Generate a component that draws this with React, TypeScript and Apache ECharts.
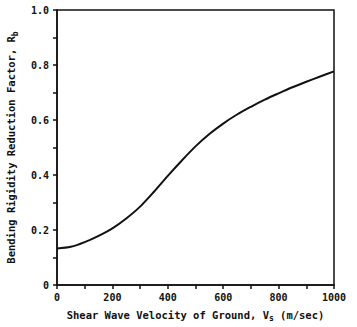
import React, { useEffect, useRef } from "react";
import * as echarts from "echarts";

const velocity = [0, 50, 100, 150, 200, 250, 300, 350, 400, 450, 500, 550, 600, 650, 700, 750, 800, 850, 900, 950, 1000];
const factor = [0.133, 0.139, 0.156, 0.179, 0.206, 0.242, 0.285, 0.339, 0.397, 0.452, 0.504, 0.549, 0.587, 0.62, 0.648, 0.674, 0.697, 0.719, 0.739, 0.758, 0.777];

const FONT = "'DejaVu Sans Mono', monospace";

export default function App() {
  const ref = useRef<HTMLDivElement>(null);
  useEffect(() => {
    if (!ref.current) return;
    const chart = echarts.init(ref.current, undefined, { renderer: "svg" });
    chart.setOption({
      animation: false,
      backgroundColor: "#fff",
      grid: {
        left: 57, top: 10, right: 23, bottom: 42,
        containLabel: false, outerBoundsMode: "none",
        show: true, borderColor: "#111", borderWidth: 1.5,
      },
      xAxis: {
        type: "value",
        min: 0,
        max: 1000,
        interval: 100,
        name: "{a|Shear Wave Velocity of Ground, V}{s|s}{a| (m/sec)}",
        nameLocation: "middle",
        nameGap: 22,
        nameTextStyle: {
          rich: {
            a: { fontFamily: FONT, fontWeight: "bold", fontSize: 10.5, color: "#111", lineHeight: 14 },
            s: { fontFamily: FONT, fontWeight: "bold", fontSize: 8, color: "#111", lineHeight: 14, padding: [8, 0, 0, 0] },
          },
        },
        axisLine: { lineStyle: { color: "#111", width: 1.5 } },
        axisTick: { show: true, inside: false, length: 4, lineStyle: { color: "#111", width: 1.5 } },
        axisLabel: {
          margin: 7,
          fontFamily: FONT,
          fontWeight: "bold",
          fontSize: 10,
          color: "#111",
          formatter: (v: number) => (Math.round(v) % 200 === 0 ? String(Math.round(v)) : ""),
        },
        splitLine: { show: false },
      },
      yAxis: {
        type: "value",
        min: 0,
        max: 1,
        interval: 0.1,
        name: "{a|Bending Rigidity Reduction Factor, R}{s|b}",
        nameLocation: "middle",
        nameRotate: 90,
        nameGap: 39,
        nameTextStyle: {
          rich: {
            a: { fontFamily: FONT, fontWeight: "bold", fontSize: 10.5, color: "#111", lineHeight: 14 },
            s: { fontFamily: FONT, fontWeight: "bold", fontSize: 8, color: "#111", lineHeight: 14, padding: [8, 0, 0, 0] },
          },
        },
        axisLine: { show: true, lineStyle: { color: "#111", width: 1.5 } },
        axisTick: { show: true, inside: false, length: 4, lineStyle: { color: "#111", width: 1.5 } },
        axisLabel: {
          margin: 8,
          fontFamily: FONT,
          fontWeight: "bold",
          fontSize: 10,
          color: "#111",
          formatter: (v: number) => {
            const k = Math.round(v * 10);
            if (k % 2 !== 0) return "";
            return k === 0 ? "0" : (k / 10).toFixed(1);
          },
        },
        splitLine: { show: false },
      },
      series: [
        {
          type: "line",
          data: velocity.map((v, i) => [v, factor[i]]),
          smooth: 0.3,
          showSymbol: false,
          lineStyle: { color: "#111", width: 2 },
        },
      ],
    });
    return () => chart.dispose();
  }, []);
  return <div ref={ref} style={{ width: 357, height: 327, position: "absolute", left: 0, top: 0 }} />;
}
